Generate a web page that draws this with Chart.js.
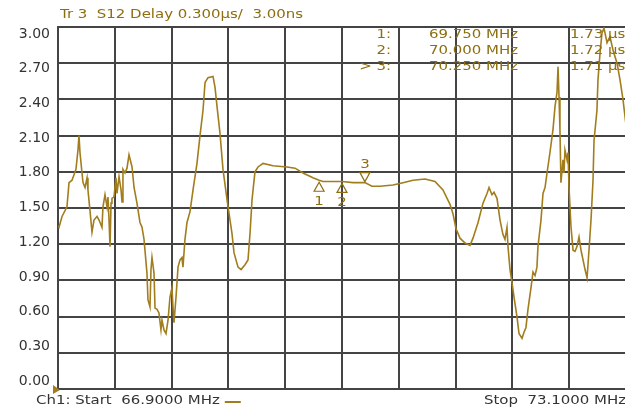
<!DOCTYPE html>
<html>
<head>
<meta charset="utf-8">
<script src="https://cdn.jsdelivr.net/npm/chart.js@4.4.0/dist/chart.umd.min.js"></script>
<style>
  html, body { margin: 0; padding: 0; background: #fff; overflow: hidden; width: 625px; height: 408px; }
  canvas { display: block; }
</style>
</head>
<body>
<canvas id="c" width="632" height="408"></canvas>
<script>
// Trace 3: S12 group delay sweep
const freqMHz = [
  66.900, 66.911, 66.944, 66.998, 67.020, 67.053, 67.096, 67.118, 67.129, 67.140,
  67.162, 67.173, 67.195, 67.217, 67.227, 67.249, 67.271, 67.293, 67.326, 67.348,
  67.380, 67.391, 67.413, 67.435, 67.446, 67.457, 67.468, 67.479, 67.489, 67.511,
  67.533, 67.544, 67.566, 67.588, 67.599, 67.609, 67.631, 67.653, 67.675, 67.708,
  67.730, 67.762, 67.795, 67.817, 67.839, 67.871, 67.882, 67.904, 67.915, 67.926,
  67.948, 67.959, 67.981, 68.002, 68.024, 68.035, 68.057, 68.079, 68.101, 68.122,
  68.144, 68.155, 68.166, 68.188, 68.210, 68.232, 68.253, 68.264, 68.286, 68.308,
  68.341, 68.374, 68.417, 68.450, 68.483, 68.505, 68.537, 68.592, 68.614, 68.636,
  68.668, 68.701, 68.745, 68.766, 68.799, 68.821, 68.865, 68.898, 68.941, 68.974,
  68.996, 69.018, 69.050, 69.083, 69.138, 69.247, 69.400, 69.487, 69.574, 69.683,
  69.750, 69.793, 69.902, 70.000, 70.120, 70.250, 70.327, 70.415, 70.557, 70.666,
  70.775, 70.906, 71.015, 71.102, 71.179, 71.212, 71.244, 71.288, 71.343, 71.397,
  71.430, 71.485, 71.539, 71.583, 71.605, 71.637, 71.659, 71.692, 71.725, 71.757,
  71.779, 71.801, 71.812, 71.834, 71.856, 71.878, 71.910, 71.932, 71.965, 71.987,
  72.008, 72.030, 72.063, 72.085, 72.107, 72.128, 72.139, 72.172, 72.194, 72.216,
  72.238, 72.270, 72.303, 72.325, 72.347, 72.358, 72.369, 72.379, 72.390, 72.412,
  72.423, 72.434, 72.456, 72.467, 72.478, 72.500, 72.522, 72.543, 72.565, 72.587,
  72.609, 72.631, 72.653, 72.675, 72.696, 72.718, 72.740, 72.751, 72.783, 72.794,
  72.816, 72.838, 72.860, 72.893, 72.925, 72.958, 73.002, 73.035, 73.067, 73.100
];
const delayUs = [
  1.35, 1.34, 1.43, 1.51, 1.71, 1.73, 1.82, 1.98, 2.10, 1.96,
  1.79, 1.71, 1.67, 1.75, 1.65, 1.48, 1.30, 1.40, 1.43, 1.40,
  1.34, 1.51, 1.61, 1.51, 1.59, 1.40, 1.18, 1.54, 1.58, 1.59,
  1.75, 1.62, 1.76, 1.65, 1.55, 1.82, 1.79, 1.83, 1.94, 1.84,
  1.67, 1.54, 1.38, 1.34, 1.24, 0.96, 0.74, 0.68, 0.99, 1.09,
  0.96, 0.67, 0.66, 0.63, 0.49, 0.57, 0.49, 0.46, 0.57, 0.76,
  0.84, 0.68, 0.55, 0.76, 1.01, 1.07, 1.09, 1.01, 1.24, 1.38,
  1.47, 1.65, 1.87, 2.10, 2.31, 2.54, 2.58, 2.59, 2.50, 2.34,
  2.12, 1.82, 1.57, 1.46, 1.29, 1.13, 1.01, 0.99, 1.03, 1.07,
  1.29, 1.57, 1.80, 1.84, 1.87, 1.85, 1.84, 1.83, 1.79, 1.75,
  1.73, 1.72, 1.72, 1.72, 1.71, 1.71, 1.68, 1.68, 1.69, 1.71,
  1.73, 1.74, 1.72, 1.65, 1.53, 1.45, 1.33, 1.25, 1.21, 1.19,
  1.25, 1.38, 1.54, 1.62, 1.67, 1.61, 1.63, 1.58, 1.40, 1.28,
  1.24, 1.34, 1.18, 0.99, 0.88, 0.76, 0.60, 0.46, 0.42, 0.47,
  0.51, 0.66, 0.84, 0.97, 0.94, 1.01, 1.18, 1.40, 1.62, 1.67,
  1.79, 1.96, 2.15, 2.34, 2.46, 2.67, 2.42, 2.15, 1.71, 1.90,
  1.79, 1.98, 1.90, 1.96, 1.67, 1.34, 1.15, 1.14, 1.18, 1.26,
  1.15, 1.07, 0.99, 0.92, 1.15, 1.40, 1.73, 2.06, 2.31, 2.56,
  2.78, 2.95, 2.99, 2.87, 2.92, 2.81, 2.70, 2.56, 2.40, 2.19
];

// Markers
const markerFreqMHz = [69.750, 70.000, 70.250];
const markerDelayUs = [1.73, 1.72, 1.71];
const markerNames = ['1', '2', '3'];
const activeMarker = 2;

// Axis settings
const yTickValues = [0.00, 0.30, 0.60, 0.90, 1.20, 1.50, 1.80, 2.10, 2.40, 2.70, 3.00];
const startMHz = 66.9;
const stopMHz = 73.1;
const xDivisions = 10;
const traceTitle = 'Tr 3  S12 Delay 0.300\u00b5s/  3.00ns';

const OLIVE_LINE = '#a27d1e';
const OLIVE_TEXT = '#8e6e10';
const GRID = '#444444';
const TEXT_DARK = '#333333';
const FONT = '"DejaVu Sans", Verdana, sans-serif';
const TEXT_STRETCH = 1.15;   // instrument font is wide and short

const xGridValues = [];
for (let i = 0; i <= xDivisions; i++) xGridValues.push(startMHz + (stopMHz - startMHz) * i / xDivisions);

const tracePoints = freqMHz.map((f, i) => ({ x: f, y: delayUs[i] }));

// draws horizontally stretched text anchored at (x, y)
function wideText(ctx, text, x, y, align) {
  ctx.save();
  ctx.translate(x, y);
  ctx.scale(TEXT_STRETCH, 1);
  ctx.textAlign = align;
  ctx.fillText(text, 0, 0);
  const w = ctx.measureText(text).width * TEXT_STRETCH;
  ctx.restore();
  return w;
}

const overlay = {
  id: 'analyzerOverlay',
  afterDatasetsDraw(chart) {
    const { ctx, scales } = chart;
    const x = scales.x, y = scales.y;
    ctx.save();
    ctx.textBaseline = 'middle';
    ctx.font = '13px ' + FONT;

    // trace header
    ctx.fillStyle = OLIVE_TEXT;
    wideText(ctx, traceTitle, 60, 15, 'left');

    // marker readout table
    markerFreqMHz.forEach((f, i) => {
      const rowY = 35 + i * 16;
      wideText(ctx, (i === activeMarker ? '> ' : '') + markerNames[i] + ':', 391, rowY, 'right');
      wideText(ctx, f.toFixed(3) + ' MHz', 429, rowY, 'left');
      wideText(ctx, markerDelayUs[i].toFixed(2) + ' \u00b5s', 570, rowY, 'left');
    });

    // marker symbols on the trace
    ctx.strokeStyle = OLIVE_TEXT;
    ctx.lineWidth = 1.2;
    markerFreqMHz.forEach((f, i) => {
      const px = x.getPixelForValue(f);
      const py = y.getPixelForValue(markerDelayUs[i]);
      ctx.beginPath();
      if (i === activeMarker) {
        ctx.moveTo(px, py - 1);
        ctx.lineTo(px - 5, py - 10);
        ctx.lineTo(px + 5, py - 10);
        ctx.closePath();
        ctx.stroke();
        wideText(ctx, markerNames[i], px, py - 18, 'center');
      } else {
        ctx.moveTo(px, py + 2);
        ctx.lineTo(px - 5, py + 11);
        ctx.lineTo(px + 5, py + 11);
        ctx.closePath();
        ctx.stroke();
        wideText(ctx, markerNames[i], px, py + 21, 'center');
      }
    });

    // reference level pointer
    const refY = y.getPixelForValue(0);
    ctx.fillStyle = OLIVE_LINE;
    ctx.beginPath();
    ctx.moveTo(53, refY - 4);
    ctx.lineTo(60, refY + 1);
    ctx.lineTo(53, refY + 5);
    ctx.closePath();
    ctx.fill();

    // sweep range footer
    ctx.fillStyle = TEXT_DARK;
    const startText = 'Ch1: Start  ' + startMHz.toFixed(4) + ' MHz';
    const w = wideText(ctx, startText, 36, 401, 'left');
    ctx.strokeStyle = OLIVE_LINE;
    ctx.lineWidth = 2;
    ctx.beginPath();
    ctx.moveTo(36 + w + 5, 402);
    ctx.lineTo(36 + w + 21, 402);
    ctx.stroke();
    wideText(ctx, 'Stop  ' + stopMHz.toFixed(4) + ' MHz', 626, 401, 'right');
    ctx.restore();
  }
};

new Chart(document.getElementById('c'), {
  type: 'line',
  data: {
    datasets: [{
      data: tracePoints,
      borderColor: OLIVE_LINE,
      borderWidth: 1.6,
      pointRadius: 0,
      tension: 0,
      fill: false
    }]
  },
  options: {
    responsive: false,
    animation: false,
    events: [],
    layout: { padding: { left: 0, right: 6, top: 27, bottom: 19 } },
    plugins: { legend: { display: false }, tooltip: { enabled: false }, title: { display: false } },
    scales: {
      x: {
        type: 'linear',
        min: startMHz,
        max: stopMHz,
        afterBuildTicks: s => { s.ticks = xGridValues.map(v => ({ value: v })); },
        afterFit: s => { s.height = 0; },
        ticks: { display: false },
        grid: { color: GRID, lineWidth: 2, drawTicks: false },
        border: { color: GRID, width: 2 }
      },
      y: {
        type: 'linear',
        position: 'left',
        weight: 0,
        min: 0,
        max: 3,
        afterBuildTicks: s => { s.ticks = yTickValues.map(v => ({ value: v })); },
        afterFit: s => { s.width = 0; },
        ticks: { display: false },
        grid: { color: GRID, lineWidth: 2, drawTicks: false },
        border: { color: GRID, width: 2 }
      },
      yLabels: {
        type: 'linear',
        position: 'left',
        weight: 10,
        min: -0.069,
        max: 3.0605,
        afterBuildTicks: s => { s.ticks = yTickValues.map(v => ({ value: v })); },
        afterFit: s => { s.width = 58; },
        ticks: {
          autoSkip: false,
          padding: 8,
          color: TEXT_DARK,
          font: { family: FONT, size: 14 },
          callback: v => Number(v).toFixed(2)
        },
        grid: { display: false, drawTicks: false },
        border: { display: false }
      }
    }
  },
  plugins: [overlay]
});
</script>
</body>
</html>
